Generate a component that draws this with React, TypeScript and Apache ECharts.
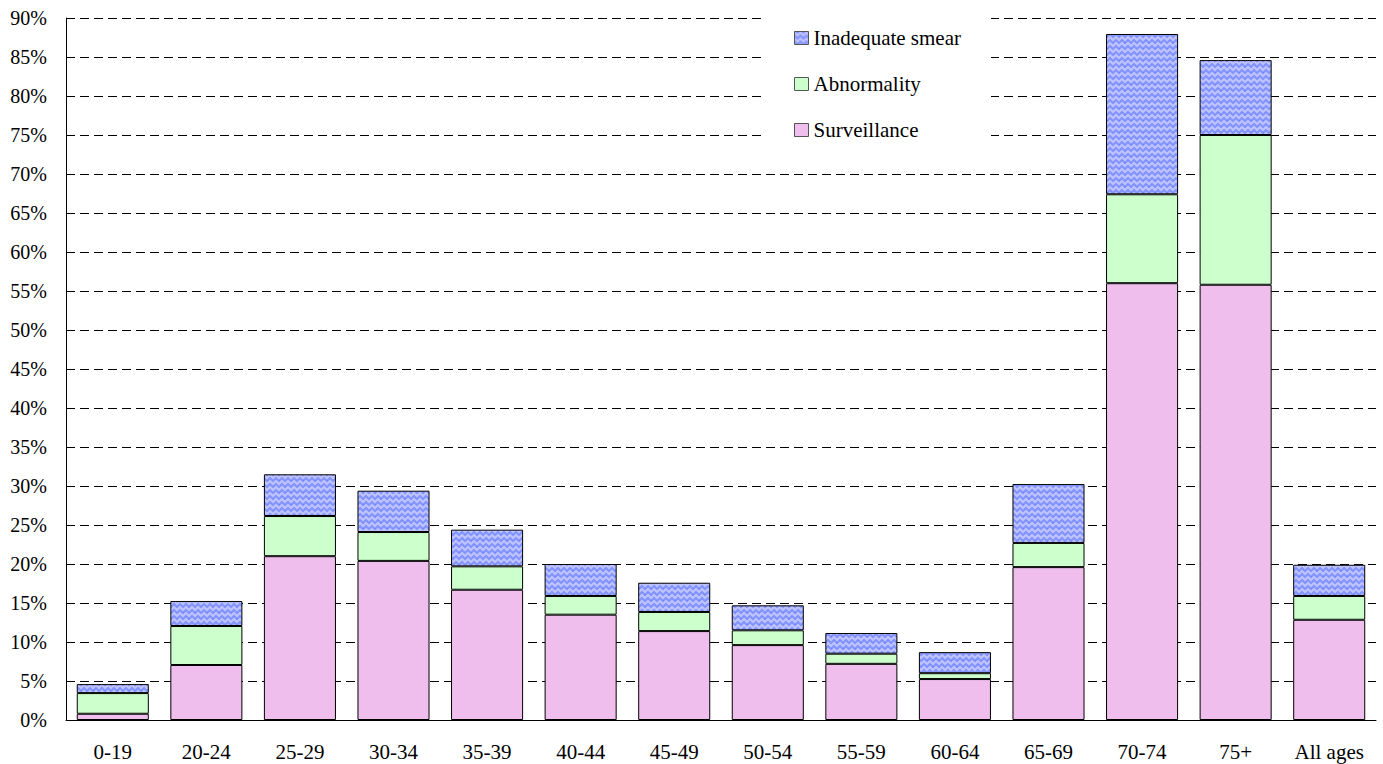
import React, { useEffect, useRef } from "react";
import * as echarts from "echarts";

const categories = ["0-19", "20-24", "25-29", "30-34", "35-39", "40-44", "45-49", "50-54", "55-59", "60-64", "65-69", "70-74", "75+", "All ages"];
const surveillance = [0.8, 7.05, 21.0, 20.4, 16.7, 13.5, 11.4, 9.6, 7.2, 5.25, 19.6, 56.0, 55.8, 12.85];
const abnormality = [2.65, 5.0, 5.15, 3.7, 3.0, 2.4, 2.45, 1.9, 1.3, 0.75, 3.1, 11.4, 19.2, 3.05];
const inadequate = [1.15, 3.2, 5.35, 5.3, 4.7, 4.1, 3.75, 3.2, 2.65, 2.7, 7.55, 20.55, 9.6, 4.0];
const yTicks = [0, 90, 5];

function makePattern(): string {
  const c = document.createElement("canvas");
  c.width = 12;
  c.height = 12;
  const g = c.getContext("2d")!;
  g.fillStyle = "#8494ff";
  g.fillRect(0, 0, 12, 12);
  g.strokeStyle = "#bfc4ff";
  g.lineWidth = 2;
  for (let row = 0; row < 3; row++) {
    const y = row * 6 + 1;
    g.beginPath();
    g.moveTo(-3, y + 3);
    g.lineTo(0, y);
    g.lineTo(3, y + 3);
    g.lineTo(6, y);
    g.lineTo(9, y + 3);
    g.lineTo(12, y);
    g.lineTo(15, y + 3);
    g.stroke();
  }
  g.fillStyle = "#6a7eff";
  g.fillRect(3, 0, 1, 1);
  g.fillRect(9, 6, 1, 1);
  return c.toDataURL();
}

export default function App() {
  const ref = useRef<HTMLDivElement>(null);
  useEffect(() => {
    document.body.style.margin = "0";
    const chart = echarts.init(ref.current!, null, { renderer: "svg" });
    const font = "'Liberation Serif', 'Times New Roman', serif";
    const pattern = { image: makePattern(), repeat: "repeat" };
    const border = { borderColor: "#000", borderWidth: 1 };
    chart.setOption({
      animation: false,
      textStyle: { fontFamily: font },
      grid: { left: 66, right: 7, top: 18, bottom: 44 },
      legend: {
        orient: "vertical",
        left: 763,
        top: 4,
        padding: [22, 30, 12, 31],
        backgroundColor: "#fff",
        icon: "rect",
        itemWidth: 14,
        itemHeight: 13,
        itemGap: 22,
        selectedMode: false,
        itemStyle: { borderColor: "#555", borderWidth: 1 },
        textStyle: { fontFamily: font, fontSize: 21, color: "#000", lineHeight: 24 },
        data: ["Inadequate smear", "Abnormality", "Surveillance"],
      },
      xAxis: {
        type: "category",
        data: categories,
        axisLine: { lineStyle: { color: "#000", width: 1 } },
        axisTick: { inside: true, length: 7, lineStyle: { color: "#000" } },
        axisLabel: { color: "#000", fontSize: 21, fontFamily: font, margin: 21 },
      },
      yAxis: {
        type: "value",
        min: yTicks[0],
        max: yTicks[1],
        interval: yTicks[2],
        axisLine: { show: true, lineStyle: { color: "#000", width: 1 } },
        axisTick: { show: true, inside: true, length: 5, lineStyle: { color: "#000" } },
        axisLabel: { color: "#000", fontSize: 20, fontFamily: font, formatter: "{value}%", margin: 19 },
        splitLine: { show: true, lineStyle: { color: "#000", type: [9, 5], width: 1 } },
      },
      series: [
        {
          name: "Surveillance",
          type: "bar",
          stack: "a",
          barCategoryGap: "23%",
          data: surveillance,
          itemStyle: { color: "#efbeec", ...border },
        },
        {
          name: "Abnormality",
          type: "bar",
          stack: "a",
          data: abnormality,
          itemStyle: { color: "#ccffcc", ...border },
        },
        {
          name: "Inadequate smear",
          type: "bar",
          stack: "a",
          data: inadequate,
          itemStyle: { color: pattern, ...border },
        },
      ],
    });
    return () => chart.dispose();
  }, []);
  return <div ref={ref} style={{ width: 1383, height: 764 }} />;
}
